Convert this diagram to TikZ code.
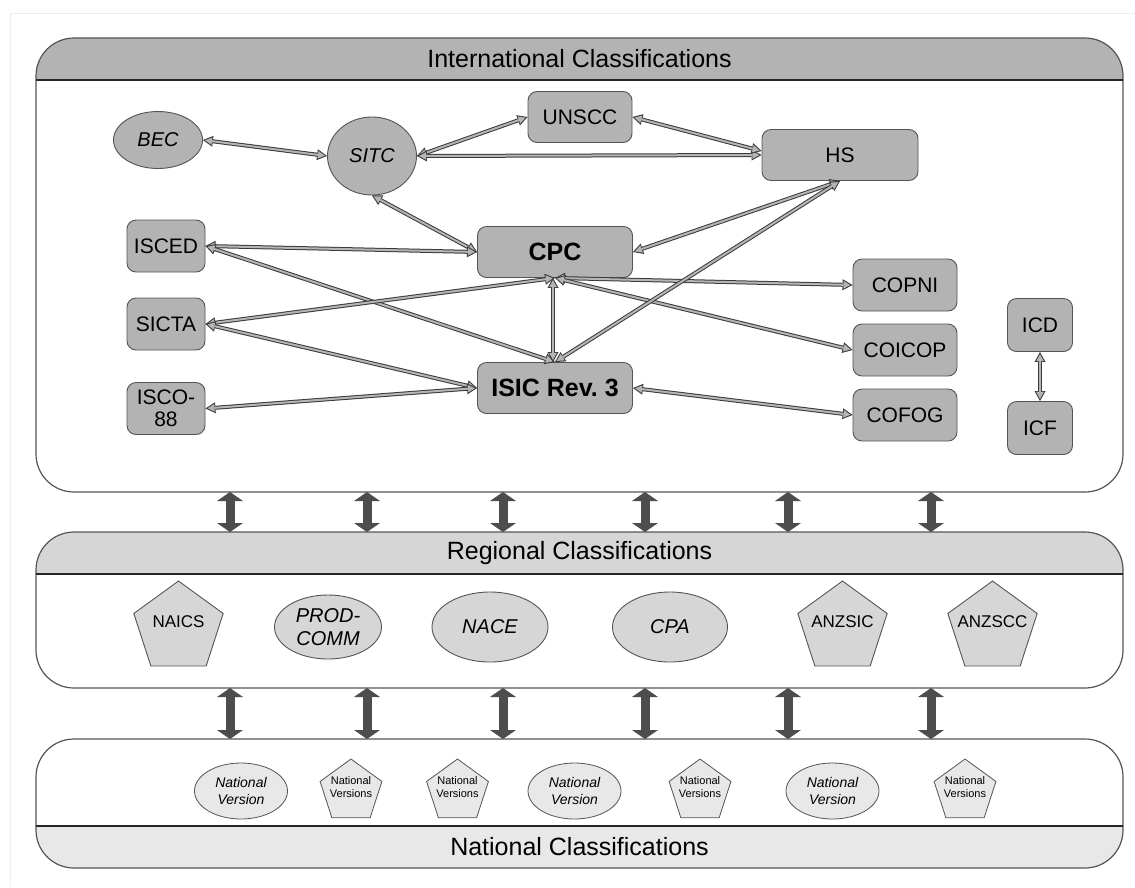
\documentclass[tikz,border=0pt]{standalone}
\usepackage{fontspec}
\setmainfont{Liberation Sans}
\usetikzlibrary{arrows.meta,shapes.geometric,calc}

\definecolor{edge}{HTML}{555555}
\definecolor{intfill}{HTML}{B3B3B3}
\definecolor{regfill}{HTML}{D6D6D6}
\definecolor{natfill}{HTML}{E8E8E8}
\definecolor{fatarrow}{HTML}{4D4D4D}
\definecolor{linkfill}{HTML}{B5B5B5}
\definecolor{linkedge}{HTML}{3A3A3A}
\definecolor{frame}{HTML}{EEEEEE}

\newcommand\fs[1]{\fontsize{#1}{#1}\selectfont}

\tikzset{
  panel/.style={draw=edge, line width=1.2pt, rounded corners=38pt},
  divider/.style={draw=black!85, line width=1.1pt},
  headtext/.style={font=\fs{25}},
  cls/.style={draw=edge, line width=0.9pt, fill=intfill, rounded corners=9pt,
    inner sep=0pt, font=\fs{21}},
  clsell/.style={ellipse, draw=edge, line width=0.9pt, fill=intfill,
    inner sep=0pt, font=\fs{20}\itshape},
  regpent/.style={regular polygon, regular polygon sides=5, minimum size=94pt,
    draw=edge, line width=0.9pt, fill=regfill, inner sep=0pt, outer sep=0pt},
  regtext/.style={font=\fs{17}, inner sep=0pt, yshift=6pt},
  regell/.style={ellipse, draw=edge, line width=0.9pt, fill=regfill,
    inner sep=0pt, font=\fontsize{20}{23}\selectfont\itshape, align=center},
  natpent/.style={regular polygon, regular polygon sides=5, minimum size=65pt,
    draw=edge, line width=0.8pt, fill=natfill, inner sep=0pt, outer sep=0pt},
  nattext/.style={font=\fontsize{11}{13}\selectfont, align=center,
    inner sep=0pt, yshift=4pt},
  natell/.style={ellipse, draw=edge, line width=0.8pt, fill=natfill,
    inner sep=0pt, minimum width=93pt, minimum height=56pt,
    font=\fontsize{14}{17}\selectfont\itshape, align=center},
  linkout/.style={line width=4pt, draw=linkedge,
    {Triangle[length=10pt,width=11pt,line width=0pt]}-{Triangle[length=10pt,width=11pt,line width=0pt]}},
  linkin/.style={line width=2pt, draw=linkfill, shorten <=2.1pt, shorten >=2.1pt,
    {Triangle[length=7pt,width=7.6pt,line width=0pt]}-{Triangle[length=7pt,width=7.6pt,line width=0pt]}},
  layerlink/.style={line width=9pt, draw=fatarrow,
    {Triangle[length=9pt,width=26pt,line width=0pt]}-{Triangle[length=9pt,width=26pt,line width=0pt]}},
}

% double-outlined two-way link between two anchors
\newcommand\link[2]{%
  \draw[linkout] #1 -- #2;
  \draw[linkin] #1 -- #2;}

\begin{document}
\begin{tikzpicture}[x=1pt, y=-1pt]
\useasboundingbox (0,0) rectangle (1135,887);
\fill[white] (0,0) rectangle (1135,887);
\draw[frame, line width=1pt] (10,887) -- (10,13) -- (1135,13);

% ---------- panels ----------
\begin{scope}
  \clip[rounded corners=38pt] (36,38) rectangle (1123,492);
  \fill[intfill] (36,38) rectangle (1123,80);
\end{scope}
\draw[panel] (36,38) rectangle (1123,492);
\draw[divider] (36,80) -- (1123,80);
\node[headtext] (inthead) at (579.5,59) {International Classifications};

\begin{scope}
  \clip[rounded corners=38pt] (36,532) rectangle (1123,688);
  \fill[regfill] (36,532) rectangle (1123,574);
\end{scope}
\draw[panel] (36,532) rectangle (1123,688);
\draw[divider] (36,574) -- (1123,574);
\node[headtext] (reghead) at (579.5,553) {Regional Classifications};

\begin{scope}
  \clip[rounded corners=38pt] (36,739) rectangle (1123,868);
  \fill[natfill] (36,826) rectangle (1123,868);
\end{scope}
\draw[panel] (36,739) rectangle (1123,868);
\draw[divider] (36,826) -- (1123,826);
\node[headtext] (nathead) at (579.5,847) {National Classifications};

% ---------- links between the layers ----------
\foreach \x [count=\i] in {230,367,503,645,788,931} {
  \coordinate (intb\i) at (\x,492);
  \coordinate (regt\i) at (\x,532);
  \coordinate (regb\i) at (\x,688);
  \coordinate (natt\i) at (\x,739);
  \draw[layerlink] (intb\i) -- (regt\i);
  \draw[layerlink] (regb\i) -- (natt\i);
}

% ---------- international classifications ----------
\node[clsell, minimum width=89pt, minimum height=57pt] (BEC) at (158,140) {BEC};
\node[clsell, minimum width=89pt, minimum height=78pt] (SITC) at (372,156) {SITC};
\node[cls, minimum width=104pt, minimum height=51pt] (UNSCC) at (580,117) {UNSCC};
\node[cls, minimum width=156pt, minimum height=51pt] (HS) at (840,155) {HS};
\node[cls, minimum width=78pt, minimum height=52pt] (ISCED) at (166,246) {ISCED};
\node[cls, minimum width=78pt, minimum height=52pt] (SICTA) at (166,324) {SICTA};
\node[cls, minimum width=78pt, minimum height=52pt, align=center,
  font=\fontsize{21}{22}\selectfont] (ISCO) at (166,408.5) {ISCO-\\88};
\node[cls, minimum width=155pt, minimum height=51pt, font=\fs{25}\bfseries] (CPC) at (555,252) {CPC};
\node[cls, minimum width=155pt, minimum height=51pt, font=\fs{25}\bfseries] (ISIC) at (555,388) {ISIC Rev.~3};
\node[cls, minimum width=104pt, minimum height=52pt] (COPNI) at (905,285) {COPNI};
\node[cls, minimum width=104pt, minimum height=52pt] (COICOP) at (905,350) {COICOP};
\node[cls, minimum width=104pt, minimum height=52pt] (COFOG) at (905,415) {COFOG};
\node[cls, minimum width=65pt, minimum height=53pt] (ICD) at (1040,325) {ICD};
\node[cls, minimum width=65pt, minimum height=53pt] (ICF) at (1040,428) {ICF};

\link{(BEC.east)}{(SITC.west)}
\link{(SITC.east)}{(UNSCC.west)}
\link{(SITC.east)}{(HS.west)}
\link{(UNSCC.east)}{([yshift=4pt]HS.west)}
\link{(SITC.south)}{(CPC.west)}
\link{(ISCED.east)}{(CPC.west)}
\link{(ISCED.east)}{(ISIC.north)}
\link{(SICTA.east)}{(CPC.south)}
\link{(SICTA.east)}{(ISIC.west)}
\link{(ISCO.east)}{(ISIC.west)}
\link{([xshift=-2pt]CPC.south)}{([xshift=-2pt]ISIC.north)}
\link{(CPC.south)}{(COPNI.west)}
\link{(CPC.south)}{(COICOP.west)}
\link{(HS.south)}{(CPC.east)}
\link{(HS.south)}{(ISIC.north)}
\link{(ISIC.east)}{(COFOG.west)}
\link{(ICD.south)}{(ICF.north)}

% ---------- regional classifications ----------
\node[regpent, label={[regtext]center:NAICS}] (NAICS) at (178.5,628) {};
\node[regell, minimum width=107pt, minimum height=64pt] (PRODCOMM) at (328,627) {PROD-\\COMM};
\node[regell, minimum width=116pt, minimum height=70pt] (NACE) at (490,627) {NACE};
\node[regell, minimum width=115pt, minimum height=70pt] (CPA) at (670,627) {CPA};
\node[regpent, label={[regtext]center:ANZSIC}] (ANZSIC) at (842.5,628) {};
\node[regpent, label={[regtext]center:ANZSCC}] (ANZSCC) at (992.5,628) {};

% ---------- national classifications ----------
\node[natell] (nv1) at (241,791) {National\\Version};
\node[natpent, label={[nattext]center:National\\Versions}] (nvs1) at (351,791.5) {};
\node[natpent, label={[nattext]center:National\\Versions}] (nvs2) at (457.5,791.5) {};
\node[natell] (nv2) at (574.5,791) {National\\Version};
\node[natpent, label={[nattext]center:National\\Versions}] (nvs3) at (700,791.5) {};
\node[natell] (nv3) at (832.5,791) {National\\Version};
\node[natpent, label={[nattext]center:National\\Versions}] (nvs4) at (965,791.5) {};
\end{tikzpicture}
\end{document}
